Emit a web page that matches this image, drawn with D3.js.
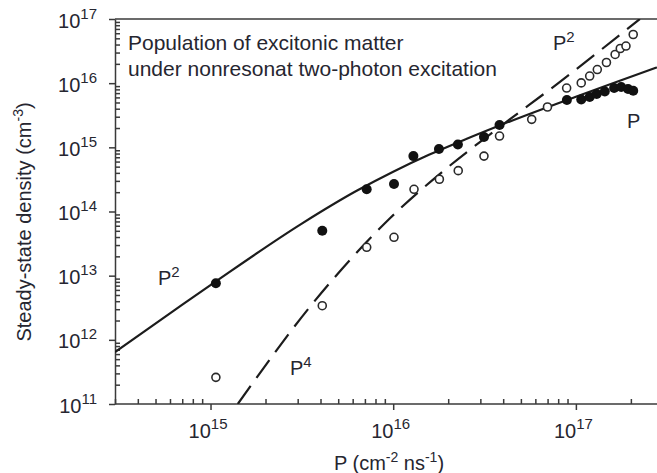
<!DOCTYPE html>
<html>
<head>
<meta charset="utf-8">
<script src="https://cdn.jsdelivr.net/npm/d3@7"></script>
<style>
  body { margin: 0; background: #fff; }
  svg { display: block; font-family: "Liberation Sans", Arial, sans-serif; }
  .axis path, .axis line { stroke: #3a3a3a; stroke-width: 1.5; }
  .label { fill: #262630; }
</style>
</head>
<body>
<svg id="chart"></svg>
<script>
// filled circles (steady-state density, one series)
var filledP = [1.07e15, 4.09e15, 7.16e15, 1.01e16, 1.29e16, 1.78e16, 2.26e16, 3.14e16, 3.82e16,
  8.93e16, 1.07e17, 1.19e17, 1.30e17, 1.44e17, 1.62e17, 1.77e17, 1.93e17, 2.06e17];
var filledN = [7.6e12, 5.0e13, 2.22e14, 2.68e14, 7.3e14, 9.4e14, 1.11e15, 1.45e15, 2.23e15,
  5.47e15, 5.57e15, 6.09e15, 6.78e15, 7.41e15, 8.41e15, 8.7e15, 8.1e15, 7.6e15];

// open circles
var openP = [1.07e15, 4.09e15, 7.16e15, 1.01e16, 1.30e16, 1.79e16, 2.27e16, 3.14e16, 3.82e16, 5.73e16,
  6.99e16, 8.9e16, 1.07e17, 1.19e17, 1.31e17, 1.47e17, 1.64e17, 1.75e17, 1.88e17, 2.06e17];
var openN = [2.6e11, 3.4e12, 2.77e13, 3.96e13, 2.22e14, 3.18e14, 4.33e14, 7.3e14, 1.50e15, 2.73e15,
  4.25e15, 8.4e15, 1.01e16, 1.29e16, 1.63e16, 2.10e16, 2.80e16, 3.47e16, 3.79e16, 5.73e16];

// solid fit curve (P^2 -> P)
var solidP = [3e14, 6.3e14, 1.07e15, 3.16e15, 6.31e15, 1e16, 1.58e16, 2.51e16, 3.98e16, 1e17, 1.58e17, 2.78e17];
var solidN = [6.46e11, 2.85e12, 8.15e12, 6.47e13, 2.10e14, 4.17e14, 7.71e14, 1.35e15, 2.29e15, 6.15e15, 9.9e15, 1.76e16];

// dashed fit curve (P^4 -> P^2)
var dashP = [1.41e15, 3.64e15, 9.6e15, 1.97e16, 3.70e16, 8.18e16, 2.24e17];
var dashN = [1e11, 3.75e12, 7.83e13, 4.76e14, 1.93e15, 1.05e16, 1e17];

// tick labels
var xTickExp = [15, 16, 17];
var yTickExp = [11, 12, 13, 14, 15, 16, 17];

var config = {
  w: 657,
  h: 473,
  left: 115,
  right: 657,
  top: 19,
  bottom: 404
};

var svg = d3.select("#chart")
  .attr("width", config.w)
  .attr("height", config.h);

var x = d3.scaleLog().domain([3e14, 2.78e17]).range([config.left, config.right]);
var y = d3.scaleLog().domain([1e11, 1e17]).range([config.bottom, config.top]);

function minors(lo, hi) {
  var out = [];
  for (var e = lo; e <= hi; e++) {
    for (var k = 2; k <= 9; k++) {
      var v = k * Math.pow(10, e);
      out.push(v);
    }
  }
  return out;
}

var xMinor = minors(14, 17).filter(function(v) { return v >= 3e14 && v <= 2.78e17; });
var yMinor = minors(11, 16);

svg.append("defs").append("clipPath").attr("id", "clip")
  .append("rect")
  .attr("x", config.left)
  .attr("y", config.top)
  .attr("width", config.right - config.left)
  .attr("height", config.bottom - config.top);

// top frame line
svg.append("line")
  .attr("x1", config.left).attr("x2", config.right)
  .attr("y1", config.top).attr("y2", config.top)
  .attr("stroke", "#3a3a3a").attr("stroke-width", 1.5);

// bottom axis: major ticks outward, minor ticks inward
var xMajorAxis = d3.axisBottom(x)
  .tickValues(xTickExp.map(function(e) { return Math.pow(10, e); }))
  .tickSize(6)
  .tickSizeOuter(0)
  .tickFormat(function() { return ""; });

var gx = svg.append("g")
  .attr("class", "axis")
  .attr("transform", "translate(0," + config.bottom + ")")
  .call(xMajorAxis);
gx.select(".domain").attr("d", "M" + config.left + ",0H" + config.right);

gx.selectAll(".tick text")
  .attr("class", "label")
  .attr("y", 34)
  .attr("dy", 0)
  .attr("x", -3)
  .attr("text-anchor", "middle")
  .attr("fill", null)
  .style("font-size", "20px")
  .each(function(d) {
    var t = d3.select(this);
    t.append("tspan").text("10");
    t.append("tspan").attr("dy", -9).style("font-size", "15px").text(Math.round(Math.log10(d)));
  });

svg.append("g")
  .attr("class", "axis")
  .attr("transform", "translate(0," + config.bottom + ")")
  .call(d3.axisTop(x).tickValues(xMinor).tickSize(5).tickSizeOuter(0).tickFormat(function() { return ""; }))
  .select(".domain").remove();

// left axis
var yMajorAxis = d3.axisLeft(y)
  .tickValues(yTickExp.map(function(e) { return Math.pow(10, e); }))
  .tickSize(6)
  .tickSizeOuter(0)
  .tickFormat(function() { return ""; });

var gy = svg.append("g")
  .attr("class", "axis")
  .attr("transform", "translate(" + config.left + ",0)")
  .call(yMajorAxis);

gy.selectAll(".tick text")
  .attr("class", "label")
  .attr("x", -18)
  .attr("y", 8)
  .attr("dy", 0)
  .attr("text-anchor", "end")
  .attr("fill", null)
  .style("font-size", "20px")
  .each(function(d) {
    var t = d3.select(this);
    t.append("tspan").text("10");
    t.append("tspan").attr("dy", -9).style("font-size", "15px").text(Math.round(Math.log10(d)));
  });

svg.append("g")
  .attr("class", "axis")
  .attr("transform", "translate(" + config.left + ",0)")
  .call(d3.axisRight(y).tickValues(yMinor).tickSize(5).tickSizeOuter(0).tickFormat(function() { return ""; }))
  .select(".domain").remove();

// fit curves
var line = d3.line()
  .curve(d3.curveMonotoneX)
  .x(function(d) { return x(d[0]); })
  .y(function(d) { return y(d[1]); });

var plot = svg.append("g").attr("clip-path", "url(#clip)");

plot.append("path")
  .attr("d", line(d3.zip(solidP, solidN)))
  .attr("fill", "none")
  .attr("stroke", "#1c1c1c")
  .attr("stroke-width", 2.2);

plot.append("path")
  .attr("d", line(d3.zip(dashP, dashN)))
  .attr("fill", "none")
  .attr("stroke", "#1c1c1c")
  .attr("stroke-width", 2.2)
  .attr("stroke-dasharray", "22,10");

// markers
plot.selectAll("circle.open")
  .data(d3.zip(openP, openN))
  .enter()
  .append("circle")
    .attr("class", "open")
    .attr("cx", function(d) { return x(d[0]); })
    .attr("cy", function(d) { return y(d[1]); })
    .attr("r", 4)
    .attr("fill", "#fff")
    .attr("stroke", "#2a2a2a")
    .attr("stroke-width", 1.6);

plot.selectAll("circle.filled")
  .data(d3.zip(filledP, filledN))
  .enter()
  .append("circle")
    .attr("class", "filled")
    .attr("cx", function(d) { return x(d[0]); })
    .attr("cy", function(d) { return y(d[1]); })
    .attr("r", 5)
    .attr("fill", "#111");

// power-law labels
function powerLabel(px, py, exp) {
  var t = svg.append("text")
    .attr("class", "label")
    .attr("x", px)
    .attr("y", py)
    .style("font-size", "20px");
  t.append("tspan").text("P");
  if (exp) {
    t.append("tspan").attr("dy", -8).style("font-size", "15px").text(exp);
  }
}

powerLabel(553, 50, "2");
powerLabel(627, 128, null);
powerLabel(158, 285, "2");
powerLabel(290, 375, "4");

// annotation
svg.append("text")
  .attr("class", "label")
  .attr("x", 128).attr("y", 50)
  .style("font-size", "21px")
  .text("Population of excitonic matter");
svg.append("text")
  .attr("class", "label")
  .attr("x", 128).attr("y", 76)
  .style("font-size", "21px")
  .text("under nonresonat two-photon excitation");

// axis titles
var xt = svg.append("text")
  .attr("class", "label")
  .attr("x", 389).attr("y", 470)
  .attr("text-anchor", "middle")
  .style("font-size", "20px");
xt.append("tspan").text("P (cm");
xt.append("tspan").attr("dy", -8).style("font-size", "14px").text("-2");
xt.append("tspan").attr("dy", 8).text(" ns");
xt.append("tspan").attr("dy", -8).style("font-size", "14px").text("-1");
xt.append("tspan").attr("dy", 8).text(")");

var yt = svg.append("text")
  .attr("class", "label")
  .attr("transform", "translate(31,222) rotate(-90)")
  .attr("text-anchor", "middle")
  .style("font-size", "20px");
yt.append("tspan").text("Steady-state density (cm");
yt.append("tspan").attr("dy", -8).style("font-size", "14px").text("-3");
yt.append("tspan").attr("dy", 8).text(")");
</script>
</body>
</html>
